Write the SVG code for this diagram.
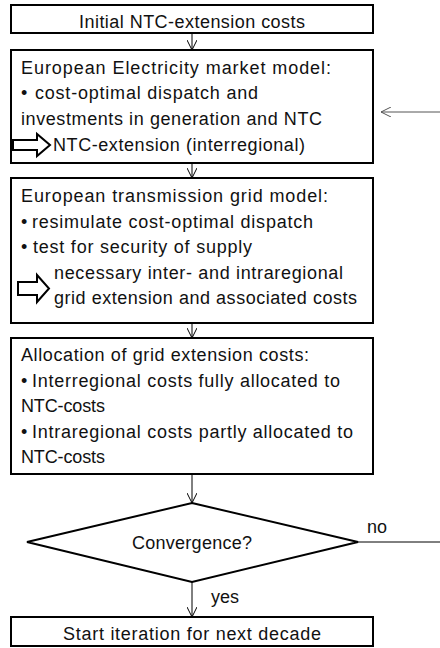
<svg xmlns="http://www.w3.org/2000/svg" width="440" height="648" viewBox="0 0 440 648">
<defs>
<style>
.box{fill:#fff;stroke:#000;stroke-width:2}
.t{font-family:"Liberation Sans",Arial,sans-serif;font-size:18px;fill:#111}
.c{text-anchor:middle}
.conn{fill:none;stroke:#000;stroke-width:1}
.blk{fill:#fff;stroke:#000;stroke-width:2;stroke-linejoin:miter}
</style>
<marker id="ah" viewBox="0 0 10 10" refX="10" refY="5" markerWidth="10" markerHeight="10" markerUnits="userSpaceOnUse" orient="auto">
<path d="M0,0 L10,5 L0,10" fill="none" stroke="#000" stroke-width="1"/>
</marker>
<marker id="ahg" viewBox="0 0 10 10" refX="10" refY="5" markerWidth="10" markerHeight="10" markerUnits="userSpaceOnUse" orient="auto">
<path d="M0,0 L10,5 L0,10" fill="none" stroke="#555" stroke-width="1"/>
</marker>
</defs>
<rect width="440" height="648" fill="#fff"/>
<g id="connectors">
<line class="conn" x1="192" y1="33" x2="192" y2="50" marker-end="url(#ah)"/>
<line class="conn" x1="192" y1="163" x2="192" y2="178" marker-end="url(#ah)"/>
<line class="conn" x1="192" y1="323" x2="192" y2="338" marker-end="url(#ah)"/>
<line class="conn" x1="192" y1="474" x2="192" y2="503" marker-end="url(#ah)"/>
<line class="conn" x1="192" y1="582" x2="192" y2="617" marker-end="url(#ah)"/>
<line class="conn" x1="358" y1="542" x2="440" y2="542"/>
<line x1="440" y1="112" x2="381" y2="112" stroke="#555" stroke-width="1" marker-end="url(#ahg)"/>
<text class="t" x="367" y="533">no</text>
<text class="t" x="211" y="603">yes</text>
</g>
<g id="n1">
<rect class="box" x="11" y="5" width="362" height="28"/>
<text class="t c" x="192" y="27.5" textLength="226" lengthAdjust="spacing">Initial NTC-extension costs</text>
</g>
<g id="n2">
<rect class="box" x="11" y="50" width="362" height="113"/>
<text class="t" x="21" y="74" textLength="310" lengthAdjust="spacing">European Electricity market model:</text>
<text class="t" y="99"><tspan x="21">•</tspan><tspan x="35" textLength="223" lengthAdjust="spacing">cost-optimal dispatch and</tspan></text>
<text class="t" x="21" y="124.5" textLength="301" lengthAdjust="spacing">investments in generation and NTC</text>
<path class="blk" d="M13,140 H37 V134 L50,145 L37,156 V150 H13 Z"/>
<text class="t" x="53" y="150.5" textLength="252" lengthAdjust="spacing">NTC-extension (interregional)</text>
</g>
<g id="n3">
<rect class="box" x="11" y="178" width="362" height="145"/>
<text class="t" x="21" y="202" textLength="307" lengthAdjust="spacing">European transmission grid model:</text>
<text class="t" y="227.5"><tspan x="21">•</tspan><tspan x="32" textLength="281" lengthAdjust="spacing">resimulate cost-optimal dispatch</tspan></text>
<text class="t" y="253"><tspan x="21">•</tspan><tspan x="33" textLength="219" lengthAdjust="spacing">test for security of supply</tspan></text>
<path class="blk" d="M18,282 H37 V275 L49,288.5 L37,302 V295 H18 Z"/>
<text class="t" x="54" y="278.5" textLength="289" lengthAdjust="spacing">necessary inter- and intraregional</text>
<text class="t" x="54" y="304" textLength="303" lengthAdjust="spacing">grid extension and associated costs</text>
</g>
<g id="n4">
<rect class="box" x="11" y="338" width="362" height="136"/>
<text class="t" x="21" y="361" textLength="288" lengthAdjust="spacing">Allocation of grid extension costs:</text>
<text class="t" y="386.5"><tspan x="21">•</tspan><tspan x="32" textLength="308" lengthAdjust="spacing">Interregional costs fully allocated to</tspan></text>
<text class="t" x="21" y="412" textLength="84" lengthAdjust="spacing">NTC-costs</text>
<text class="t" y="437.5"><tspan x="21">•</tspan><tspan x="32" textLength="321" lengthAdjust="spacing">Intraregional costs partly allocated to</tspan></text>
<text class="t" x="21" y="463" textLength="84" lengthAdjust="spacing">NTC-costs</text>
</g>
<g id="n5">
<polygon class="box" points="192,503 358,542 192,582 27,542"/>
<text class="t c" x="192" y="549" textLength="120" lengthAdjust="spacing">Convergence?</text>
</g>
<g id="n6">
<rect class="box" x="11" y="617" width="362" height="29"/>
<text class="t c" x="192" y="639.5" textLength="258" lengthAdjust="spacing">Start iteration for next decade</text>
</g>
</svg>
